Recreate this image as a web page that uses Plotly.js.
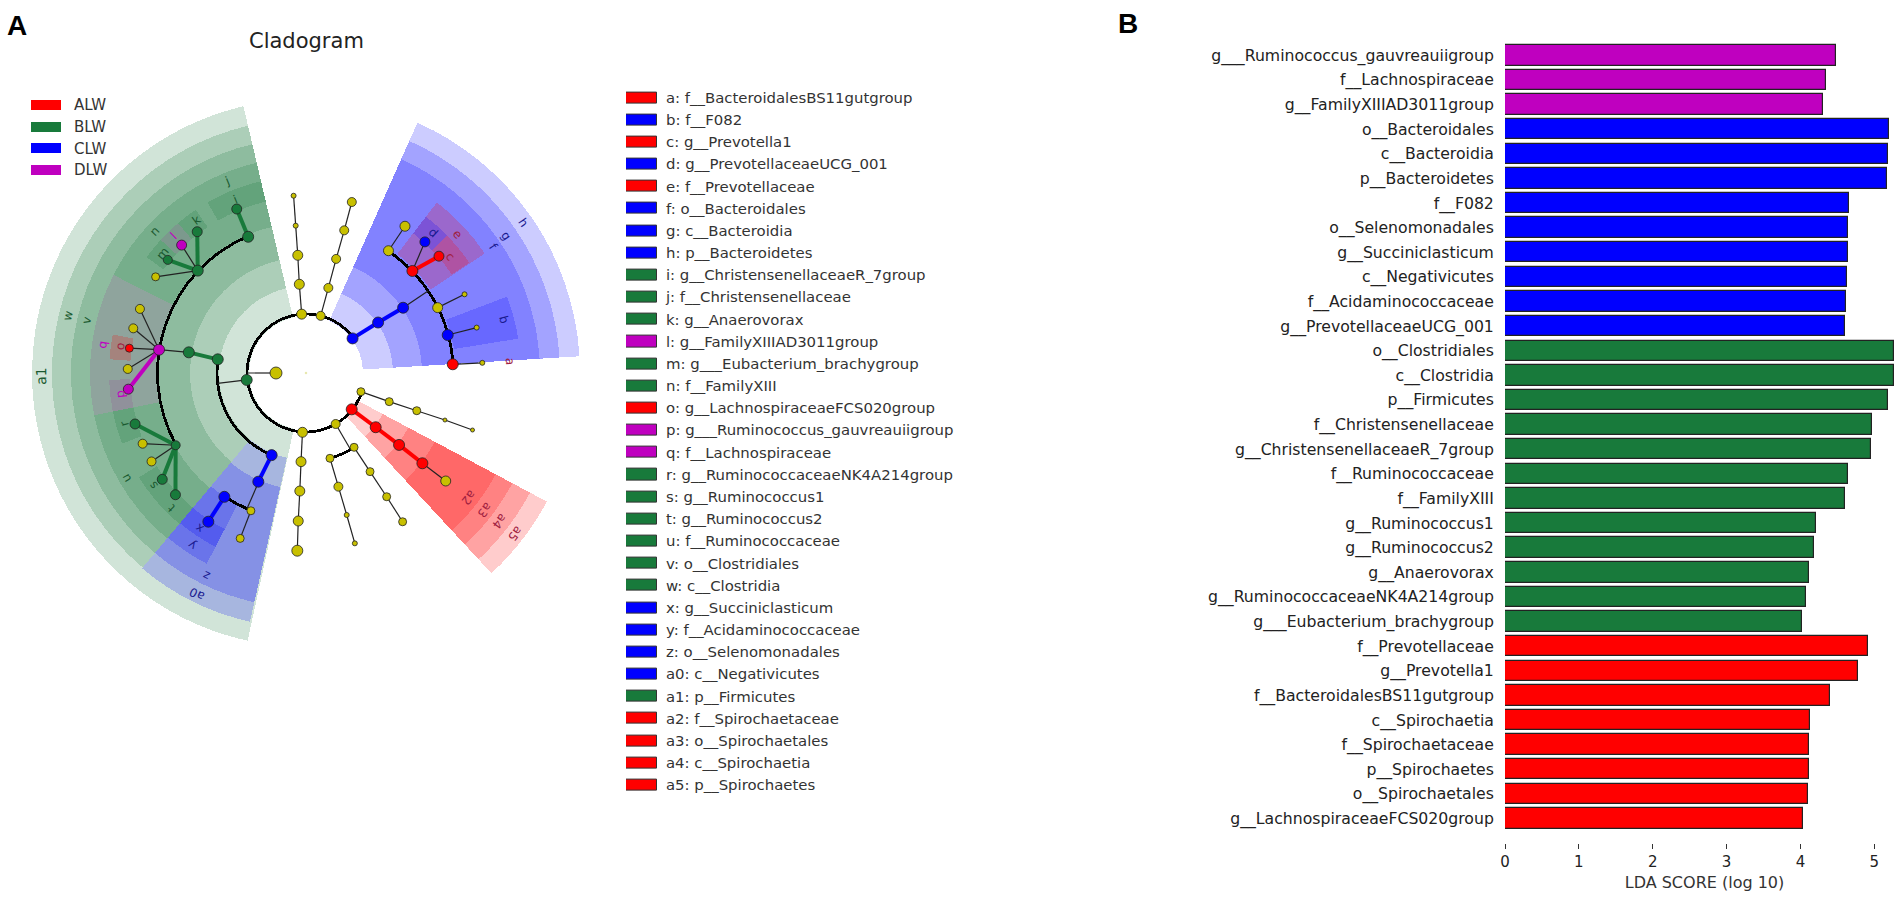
<!DOCTYPE html>
<html>
<head>
<meta charset="utf-8">
<script src="https://cdn.plot.ly/plotly-3.0.1.min.js"></script>
<style>html,body{margin:0;padding:0;background:#fff}#chart{width:1904px;height:900px}</style>
</head>
<body>
<div id="chart"></div>
<script>
// ---------- LDA bar chart data ----------
const ldaTaxa = ["g___Ruminococcus_gauvreauiigroup","f__Lachnospiraceae","g__FamilyXIIIAD3011group","o__Bacteroidales","c__Bacteroidia","p__Bacteroidetes","f__F082","o__Selenomonadales","g__Succiniclasticum","c__Negativicutes","f__Acidaminococcaceae","g__PrevotellaceaeUCG_001","o__Clostridiales","c__Clostridia","p__Firmicutes","f__Christensenellaceae","g__ChristensenellaceaeR_7group","f__Ruminococcaceae","f__FamilyXIII","g__Ruminococcus1","g__Ruminococcus2","g__Anaerovorax","g__RuminococcaceaeNK4A214group","g___Eubacterium_brachygroup","f__Prevotellaceae","g__Prevotella1","f__BacteroidalesBS11gutgroup","c__Spirochaetia","f__Spirochaetaceae","p__Spirochaetes","o__Spirochaetales","g__LachnospiraceaeFCS020group"];
const ldaScores = [4.48,4.34,4.31,5.20,5.19,5.17,4.66,4.65,4.64,4.63,4.62,4.60,5.27,5.27,5.18,4.97,4.96,4.64,4.61,4.21,4.19,4.11,4.07,4.02,4.92,4.78,4.40,4.13,4.11,4.11,4.10,4.04];
const ldaGroups = ["D","D","D","C","C","C","C","C","C","C","C","C","B","B","B","B","B","B","B","B","B","B","B","B","A","A","A","A","A","A","A","A"];

// ---------- legends ----------
const groupNames = ["ALW","BLW","CLW","DLW"];
const groupKeys = ["A","B","C","D"];
const cladeLabels = ["a: f__BacteroidalesBS11gutgroup","b: f__F082","c: g__Prevotella1","d: g__PrevotellaceaeUCG_001","e: f__Prevotellaceae","f: o__Bacteroidales","g: c__Bacteroidia","h: p__Bacteroidetes","i: g__ChristensenellaceaeR_7group","j: f__Christensenellaceae","k: g__Anaerovorax","l: g__FamilyXIIIAD3011group","m: g___Eubacterium_brachygroup","n: f__FamilyXIII","o: g__LachnospiraceaeFCS020group","p: g___Ruminococcus_gauvreauiigroup","q: f__Lachnospiraceae","r: g__RuminococcaceaeNK4A214group","s: g__Ruminococcus1","t: g__Ruminococcus2","u: f__Ruminococcaceae","v: o__Clostridiales","w: c__Clostridia","x: g__Succiniclasticum","y: f__Acidaminococcaceae","z: o__Selenomonadales","a0: c__Negativicutes","a1: p__Firmicutes","a2: f__Spirochaetaceae","a3: o__Spirochaetales","a4: c__Spirochaetia","a5: p__Spirochaetes"];
const cladeGroups = ["A","C","A","C","A","C","C","C","B","B","B","D","B","B","A","D","D","B","B","B","B","B","B","C","C","C","C","B","A","A","A","A"];

// ---------- cladogram: clade wedges (angles in degrees, radii in cladogram levels) ----------
const wedgeNames = ["a1","w","v","h","g","f","e","d","c","b","a5","a4","a3","a2","a0","z","y","x","j","i","n","k","l","m","q","o","p","u","r","s","t"];
const wedgeGroup = ["B","B","B","C","C","C","A","C","A","C","A","A","A","A","C","C","C","C","B","B","B","B","D","B","D","A","D","B","B","B","B"];
const wedgeStart = [103.2,103.2,103.2,3.5,3.5,3.5,33.8,44.2,34,9.2,-47.2,-47.2,-47.2,-47.2,230,230,230,230,103.2,103.2,120,124,130.5,137.5,153,168.7,182,191.3,191.3,212,219.8];
const wedgeEnd = [257.7,230,230,66,66,66,52.5,52.5,44.2,20.8,-28.1,-28.1,-28.1,-28.1,257.3,257.3,242.5,242.5,120,120,153,130.5,137.5,144,191.3,176,191.3,230,201,219.8,230];
const wedgeInner = [57,87,116,57,87,116,150,176,176,150,57,87,116,146,87,117,148,176,150,176,150,176,176,176,150,176,176,150,176,176,176];
const wedgeOuter = [274,254,235,274,254,234,215,197,197,215,273,254,234,215,255,235,215,196,216,197,216,197,197,197,216,197,197,216,197,197,197];

// ---------- cladogram: thick black arcs joining siblings ----------
const arcRadius = [59,89,148.5,148,147.2,88.5];
const arcStart = [36.6,171.2,113,236.6,3.4,-74.3];
const arcEnd = [341.2,247.3,209,248.2,56,-57];

// ---------- cladogram: thin stems from a parent into a sibling arc ----------
const stemInner = [30,59.7,117,118.7,59];
const stemOuter = [59,89,147,148,88.5];
const stemAngle = [180,186.7,33.9,246.5,-59.8];

// ---------- cladogram: taxon nodes ----------
const nodeIds = ["root","cen","p1","p2","p3","y1","e","y2","b1","a","yl1","d","c","ys1","ys2","ys3",
 "t1","t2","t3","t4","t5","u1","u2","u3","u4","u5",
 "g1","g2","g3","j","n","u","m","k","l","yg","i","r","s","t","yu1","yu2",
 "q","qy1","qy2","o","qy3","p",
 "b2","b3","y","yb","x","ybs",
 "r1","r2","r3","r4","r5","s1","s2","s3","s4","s5",
 "v1","v2","v3","v4","v5",
 "w1","w2","w3","w4","w5","w6","w7","w8","w9"];
const nodeGroups = ["R","Y","C","C","C","Y","A","Y","C","A","Y","C","A","Y","Y","Y",
 "Y","Y","Y","Y","Y","Y","Y","Y","Y","Y",
 "B","B","B","B","B","B","B","B","D","Y","B","B","B","B","Y","Y",
 "D","Y","Y","A","Y","D",
 "C","C","C","Y","C","Y",
 "A","A","A","A","Y","Y","Y","Y","Y","Y",
 "Y","Y","Y","Y","Y",
 "Y","Y","Y","Y","Y","Y","Y","Y","Y"];
const nodeRadii = [0,30,58,88,117,147.5,147.4,147,146.7,147,177,177,177,177,176.6,176.6,
 59,89,118,147.7,177.7,59,88,118,147.7,177,
 59.7,89.3,119,148,149,149,178.6,178.3,178.4,178.5,178,178.4,178.8,178.5,178,178,
 148.8,178,178.4,178.4,178.3,178.4,
 89,118.7,148.3,148.4,177.9,178,
 58.4,88.3,117.6,147.3,176.6,58,88,117,146.7,176,
 59.4,88.8,118.2,148.2,177.9,
 59,88.5,117.6,147.7,177.4,88.6,118.2,147.7,177.2];
const nodeAngles = [0,180,36.6,35,33.9,56,43.8,26.4,15,3.4,56,47.8,41.3,26.4,14.9,3.3,
 94.2,94.3,94,94,94,75.6,75.3,75.2,75,75,
 186.7,171.2,170,113,136.6,209,140.7,127.6,134.2,147.4,112.9,196.6,216.5,223,203.4,209.8,
 171,158.9,165.5,172,178.7,185.2,
 247.3,246.3,236.6,248.2,236.7,248.3,
 -38.5,-37.9,-37.7,-37.8,-37.7,-18.8,-19,-18.8,-18.7,-18.9,
 266.6,266.8,267,267,267.2,
 -59.8,-57.1,-57,-56.9,-57,-74.3,-74.1,-74,-74];
const nodeSizes = [2.5,12,11,11,11,10,11,10,11,11,10,10,10,5,5,5,
 10,10,10,5,5,9,9,9,9,9,
 11,11,11,11,11,9,9,10,10,8,10,10,10,10,9,9,
 11,9,9,8,9,10,
 11,11,11,8,11,8,
 11,11,11,11,10,8,8,8,4,4,
 10,10,10,10,11,
 9,8,8,8,8,8,9,5,5];
const nodeParents = [null,null,null,"p1","p2",null,null,null,null,null,"y1","e","e","y2","b1","a",
 null,"t1","t2","t3","t4",null,"u1","u2","u3","u4",
 null,null,"g2",null,null,null,"n","n","n","n","j","u","u","u","u","u",
 "g3","q","q","q","q","q",
 null,"b2",null,null,"y","yb",
 null,"r1","r2","r3","r4",null,"s1","s2","s3","s4",
 null,"v1","v2","v3","v4",
 null,null,"w2","w3","w4",null,"w6","w7","w8"];

// ---------- clade letters ----------
const letterText = ["a","b","c","d","e","f","g","h","i","j","k","l","m","n","o","p","q","r","s","t","u","v","w","x","y","z","a0","a1","a2","a3","a4","a5"];
const letterRadius = [204.4,205,185.6,189,205.5,226,242.4,264,187,207,188,190.7,186.3,207,187.8,187,205,189,189.4,190,208,226,245,188,207,226,246.4,265,205,225,244,264];
const letterAngle = [3.4,15,38.8,47.6,42.6,34,34.4,34.6,112.3,112.3,125.5,134,140,136.8,172,186.4,172,195.5,216.3,225,210.4,166.6,166.5,235.7,236.5,243.8,243.8,180.6,-37.5,-37.5,-37.5,-37.5];

// ---------- styling ----------
const solid = {A:"#ff0000",B:"#187a3b",C:"#0000ff",D:"#bf00bf",Y:"#c8c000",R:"#e8e8b0"};
const tint = {A:"rgba(255,0,0,0.2)",B:"rgba(24,122,59,0.2)",C:"rgba(0,0,255,0.2)",D:"rgba(150,70,150,0.2)"};
const letterColor = {A:"#a02040",B:"#1a5a30",C:"#1a1a90",D:"#c000c0"};
const W = 1904, H = 900, CX = 306, CY = 373, RMAX = 280;
const px = v => v / W, py = v => 1 - v / H;

// ---------- traces ----------
const traces = [];
wedgeStart.forEach((s,i)=>{
  traces.push({type:"barpolar",subplot:"polar",name:wedgeNames[i],theta:[(s+wedgeEnd[i])/2],width:[wedgeEnd[i]-s],
    base:[wedgeInner[i]],r:[wedgeOuter[i]-wedgeInner[i]],
    marker:{color:tint[wedgeGroup[i]],line:{width:0}},hoverinfo:"name",showlegend:false});
});
traces.push({type:"barpolar",subplot:"polar",
  theta:arcStart.map((s,i)=>(s+arcEnd[i])/2),width:arcStart.map((s,i)=>arcEnd[i]-s),
  base:arcRadius.map(r=>r-1.4),r:arcRadius.map(()=>2.8),
  marker:{color:"#000",line:{width:0}},hoverinfo:"skip",showlegend:false});

const idx = id => nodeIds.indexOf(id);
const thinR=[],thinT=[]; const thick={A:{r:[],t:[]},B:{r:[],t:[]},C:{r:[],t:[]},D:{r:[],t:[]}};
stemAngle.forEach((a,i)=>{thinR.push(stemInner[i],stemOuter[i],null);thinT.push(a,a,null);});
nodeIds.forEach((id,i)=>{
  const parent = nodeParents[i];
  if(!parent) return;
  const j = idx(parent);
  const g = nodeGroups[i];
  if(g!=="Y" && g===nodeGroups[j]){
    thick[g].r.push(nodeRadii[j],nodeRadii[i],null);thick[g].t.push(nodeAngles[j],nodeAngles[i],null);
  } else {
    thinR.push(nodeRadii[j],nodeRadii[i],null);thinT.push(nodeAngles[j],nodeAngles[i],null);
  }
});
traces.push({type:"scatterpolar",subplot:"polar",mode:"lines",r:thinR,theta:thinT,
  line:{color:"#222",width:1.2},hoverinfo:"skip",showlegend:false,connectgaps:false});
Object.keys(thick).forEach(g=>{
  traces.push({type:"scatterpolar",subplot:"polar",mode:"lines",r:thick[g].r,theta:thick[g].t,
    line:{color:solid[g],width:4},hoverinfo:"skip",showlegend:false,connectgaps:false});
});
traces.push({type:"scatterpolar",subplot:"polar",mode:"markers",r:nodeRadii,theta:nodeAngles,
  marker:{size:nodeSizes,opacity:1,color:nodeGroups.map(g=>solid[g]),
    line:{color:nodeGroups.map(g=>g==="R"?"rgba(0,0,0,0)":"#222"),width:0.8}},
  text:nodeIds,hoverinfo:"text",showlegend:false});

// LDA bars
traces.push({type:"bar",orientation:"h",xaxis:"x",yaxis:"y",x:ldaScores,y:ldaTaxa,width:0.83,
  marker:{color:ldaGroups.map(g=>solid[g]),line:{color:"#222",width:1.2}},showlegend:false,hoverinfo:"x+y"});
// clade legend swatches
traces.push({type:"bar",orientation:"h",xaxis:"x2",yaxis:"y2",x:cladeLabels.map(()=>1),y:cladeLabels,width:0.5,
  marker:{color:cladeGroups.map(g=>solid[g]),line:{color:"#333",width:1}},showlegend:false,hoverinfo:"y"});
// group legend swatches
traces.push({type:"bar",orientation:"h",xaxis:"x3",yaxis:"y3",x:groupNames.map(()=>1),y:groupNames,width:0.46,
  marker:{color:groupKeys.map(g=>solid[g]),line:{width:0}},showlegend:false,hoverinfo:"y"});

// ---------- clade letter annotations ----------
const groupOfLetter = t => cladeGroups[letterText.indexOf(t)];
const annotations = letterText.map((t,i)=>{
  const th = letterAngle[i]*Math.PI/180, rr = letterRadius[i];
  return {xref:"paper",yref:"paper",x:px(CX+rr*Math.cos(th)),y:py(CY-rr*Math.sin(th)),
    xanchor:"center",yanchor:"middle",showarrow:false,text:t,textangle:90-letterAngle[i],
    font:{family:"DejaVu Sans",size:t==="a1"?14:12,color:letterColor[groupOfLetter(t)]}};
});
annotations.push(
  {xref:"paper",yref:"paper",x:px(306.5),y:py(41),xanchor:"center",yanchor:"middle",showarrow:false,text:"Cladogram",font:{family:"DejaVu Sans",size:21,color:"#222"}},
  {xref:"paper",yref:"paper",x:px(17),y:py(26),xanchor:"center",yanchor:"middle",showarrow:false,text:"<b>A</b>",font:{family:"Liberation Sans",size:28,color:"#000"}},
  {xref:"paper",yref:"paper",x:px(1128),y:py(24),xanchor:"center",yanchor:"middle",showarrow:false,text:"<b>B</b>",font:{family:"Liberation Sans",size:28,color:"#000"}}
);

const hiddenX = {showgrid:false,zeroline:false,showline:false,showticklabels:false,ticks:"",range:[0,1],fixedrange:true};
const layout = {
  width:W,height:H,margin:{l:0,r:0,t:0,b:0},paper_bgcolor:"#fff",plot_bgcolor:"#fff",
  font:{family:"DejaVu Sans",color:"#222"},showlegend:false,bargap:0,
  polar:{domain:{x:[px(CX-RMAX),px(CX+RMAX)],y:[py(CY+RMAX),py(CY-RMAX)]},
    bgcolor:"rgba(0,0,0,0)",barmode:"overlay",sector:[0,360],
    radialaxis:{visible:false,range:[0,RMAX]},
    angularaxis:{visible:false,direction:"counterclockwise",rotation:0,thetaunit:"degrees"}},
  xaxis:{domain:[px(1505),1],range:[0,399/73.86],anchor:"y",tickvals:[0,1,2,3,4,5],ticktext:["0","1","2","3","4","5"],
    ticks:"outside",ticklen:5,tickcolor:"#333",tickwidth:1,showgrid:false,zeroline:false,showline:false,
    tickfont:{family:"DejaVu Sans",size:15,color:"#222"},
    title:{text:"LDA SCORE (log 10)",font:{family:"DejaVu Sans",size:16,color:"#333"},standoff:6}},
  yaxis:{domain:[py(843),py(43)],type:"category",categoryorder:"array",categoryarray:ldaTaxa,range:[31.995,-0.5],anchor:"x",
    showgrid:false,zeroline:false,showline:false,ticks:"outside",ticklen:7,tickcolor:"rgba(0,0,0,0)",
    tickmode:"array",tickvals:ldaTaxa,ticktext:ldaTaxa,tickfont:{family:"DejaVu Sans",size:15.7,color:"#222"}},
  xaxis2:Object.assign({},hiddenX,{domain:[px(626),px(657)],anchor:"y2"}),
  yaxis2:{domain:[py(796.1),py(86.6)],type:"category",categoryorder:"array",categoryarray:cladeLabels,range:[31.5,-0.5],anchor:"x2",side:"right",
    showgrid:false,zeroline:false,showline:false,ticks:"outside",ticklen:5,tickcolor:"rgba(0,0,0,0)",
    tickmode:"array",tickvals:cladeLabels,ticktext:cladeLabels,tickfont:{family:"DejaVu Sans",size:14.9,color:"#333"}},
  xaxis3:Object.assign({},hiddenX,{domain:[px(31),px(61)],anchor:"y3"}),
  yaxis3:{domain:[py(181),py(94)],type:"category",categoryorder:"array",categoryarray:groupNames,range:[3.5,-0.5],anchor:"x3",side:"right",
    showgrid:false,zeroline:false,showline:false,ticks:"outside",ticklen:9,tickcolor:"rgba(0,0,0,0)",
    tickmode:"array",tickvals:groupNames,ticktext:groupNames,tickfont:{family:"DejaVu Sans",size:15,color:"#333"}},
  annotations:annotations
};
Plotly.newPlot("chart",traces,layout,{displayModeBar:false});
</script>
</body>
</html>
